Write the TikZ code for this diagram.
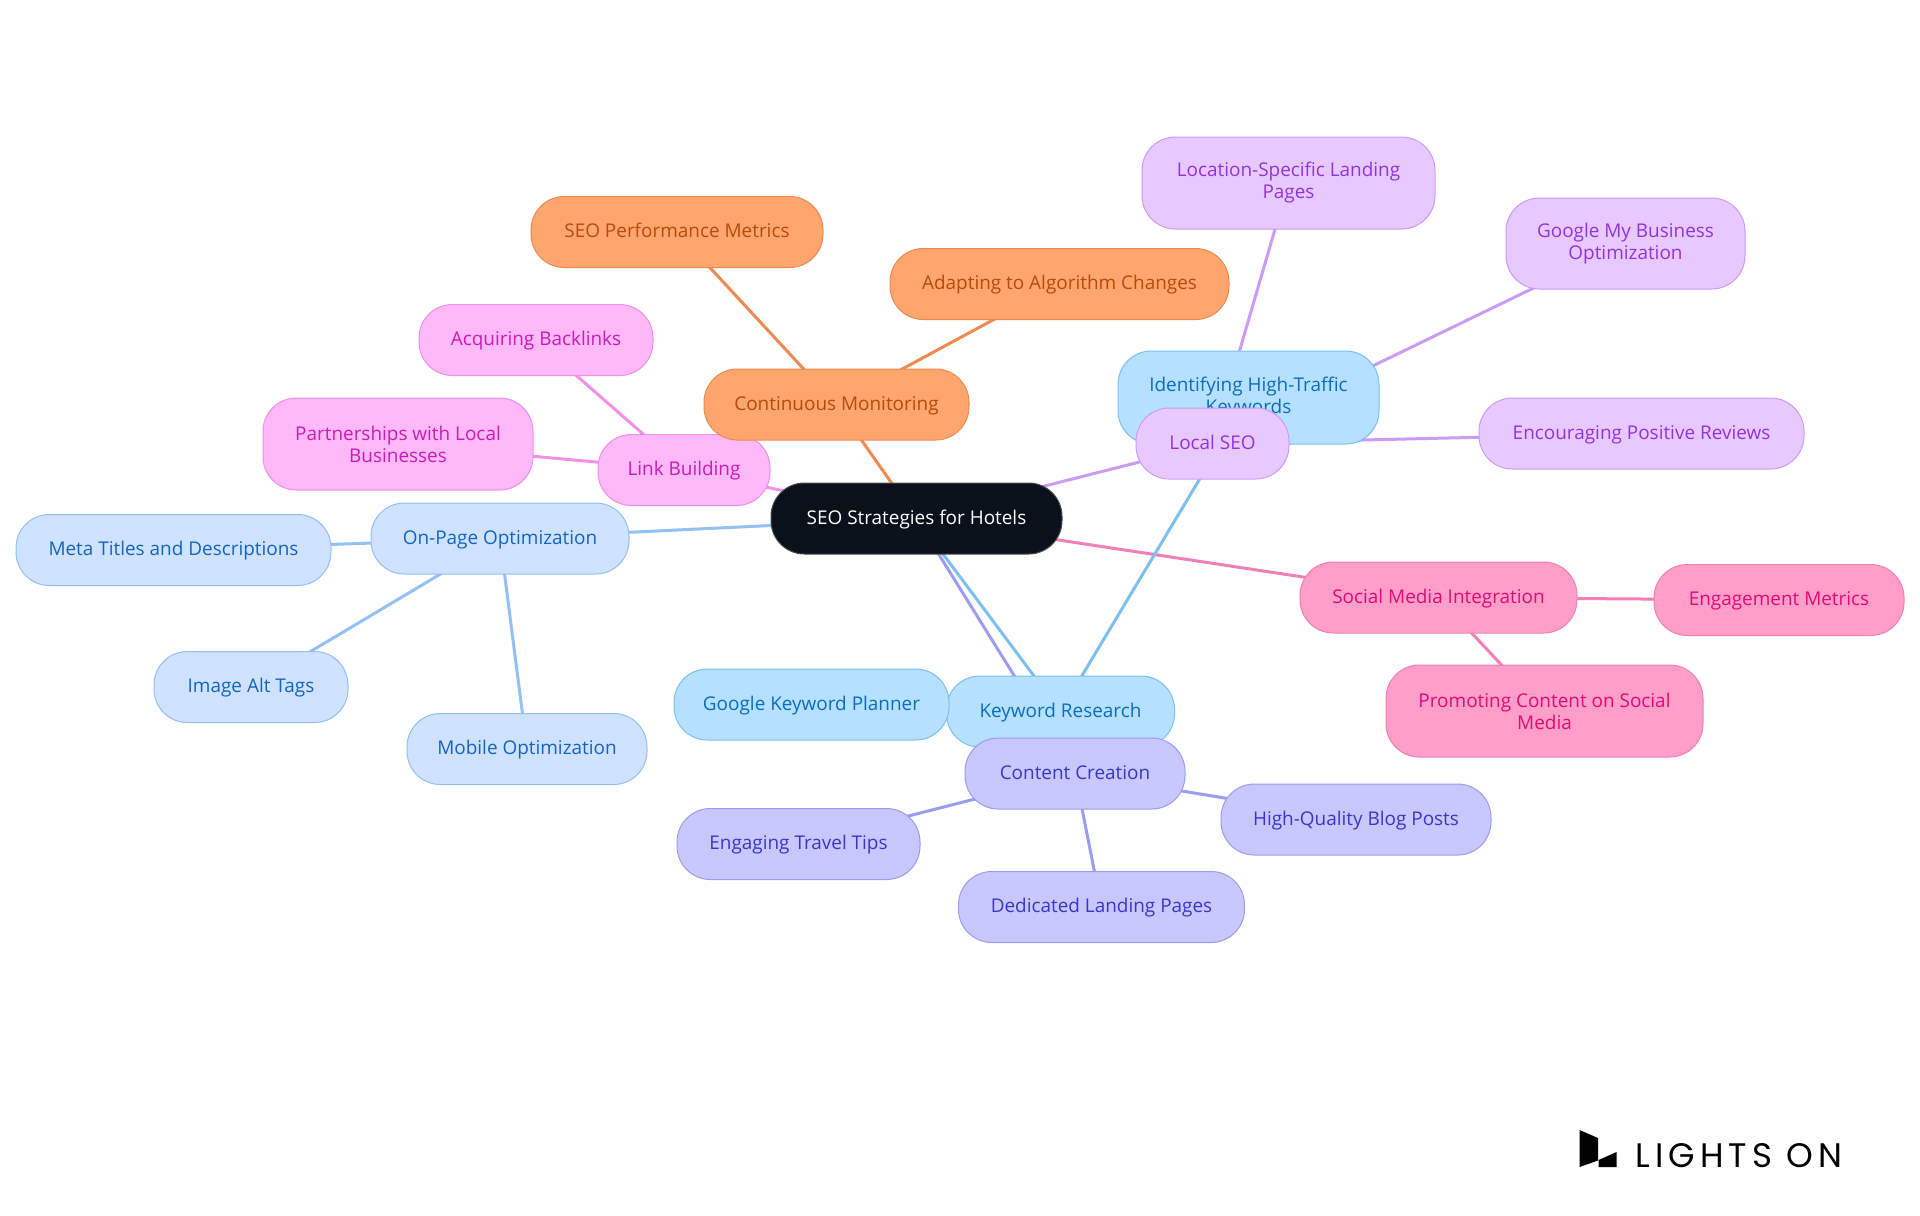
\documentclass[tikz,border=0pt]{standalone}
\usepackage{fontspec}
\setmainfont{Open Sans}
\newfontfamily\brandfont[LetterSpace=15]{Poppins}
\usepackage{tikz}
\usetikzlibrary{backgrounds}
\tikzset{
  size/.style 2 args={minimum width=#1*0.75pt,minimum height=#2*0.75pt},
  topic/.style 2 args={draw=#1,fill=#2,line width=0.75pt,rounded corners=25pt,
    inner sep=0pt,align=center,text height=11.5pt,text depth=3pt,
    font=\fontsize{14.2pt}{16.5pt}\selectfont},
  wrapped/.style={text height={},text depth={}},
  rootbox/.style={topic={black!70}{rootfill},text=white},
  kwbox/.style={topic={kwline}{kwfill},text=kwtext},
  pagebox/.style={topic={pageline}{pagefill},text=pagetext},
  contentbox/.style={topic={contentline}{contentfill},text=contenttext},
  localbox/.style={topic={localline}{localfill},text=localtext},
  linkbox/.style={topic={linkline}{linkfill},text=linktext},
  socialbox/.style={topic={socialline}{socialfill},text=socialtext},
  monitorbox/.style={topic={monitorline}{monitorfill},text=monitortext},
  branch/.style={draw=#1,line width=2.25pt}
}
\definecolor{rootfill}{HTML}{0B111A}
\definecolor{kwfill}{HTML}{B5E0FF}\definecolor{kwline}{HTML}{7CC0F0}\definecolor{kwtext}{HTML}{0A6EBD}
\definecolor{pagefill}{HTML}{CFE2FF}\definecolor{pageline}{HTML}{93C0F5}\definecolor{pagetext}{HTML}{1565C0}
\definecolor{contentfill}{HTML}{C8C8FF}\definecolor{contentline}{HTML}{9C9CF0}\definecolor{contenttext}{HTML}{3A36C8}
\definecolor{localfill}{HTML}{E8C9FF}\definecolor{localline}{HTML}{CB9BF5}\definecolor{localtext}{HTML}{9333DC}
\definecolor{linkfill}{HTML}{FFB8F8}\definecolor{linkline}{HTML}{F090E8}\definecolor{linktext}{HTML}{CC1CB8}
\definecolor{socialfill}{HTML}{FF9EC8}\definecolor{socialline}{HTML}{F27FB5}\definecolor{socialtext}{HTML}{E00B78}
\definecolor{monitorfill}{HTML}{FFA66E}\definecolor{monitorline}{HTML}{EC8A50}\definecolor{monitortext}{HTML}{B84A0C}
\begin{document}
\begin{tikzpicture}[x=0.75pt,y=-0.75pt]
\useasboundingbox (0,0) rectangle (1920,1215);
\node[pagebox,size={258}{71}] (onpage) at (500,538.5) {On-Page Optimization};
\node[pagebox,size={315}{71}] (meta) at (173.5,550) {Meta Titles and Descriptions};
\node[pagebox,size={194}{71}] (alttags) at (251,687) {Image Alt Tags};
\node[pagebox,size={240}{71}] (mobile) at (527,749) {Mobile Optimization};
\node[linkbox,size={172}{71}] (link) at (684,470) {Link Building};
\node[linkbox,size={234}{71}] (backlinks) at (536,340) {Acquiring Backlinks};
\node[linkbox,wrapped,size={270}{92}] (partners) at (398,444) {Partnerships with Local\\Businesses};
\node[monitorbox,size={265}{71}] (monitor) at (836.5,404.5) {Continuous Monitoring};
\node[monitorbox,size={292}{71}] (metrics) at (677,232) {SEO Performance Metrics};
\node[monitorbox,size={339}{71}] (adapting) at (1059.5,284) {Adapting to Algorithm Changes};
\node[kwbox,wrapped,size={261}{93}] (hightraffic) at (1248.5,397.5) {Identifying High-Traffic\\Keywords};
\node[localbox,size={153}{71}] (localseo) at (1212.5,443.5) {Local SEO};
\node[localbox,wrapped,size={293}{92}] (landing) at (1288.5,183) {Location-Specific Landing\\Pages};
\node[localbox,wrapped,size={239}{91}] (mybusiness) at (1625.5,243.5) {Google My Business\\Optimization};
\node[localbox,size={325}{71}] (reviews) at (1641.5,433.5) {Encouraging Positive Reviews};
\node[socialbox,size={277}{71}] (social) at (1438.5,597.5) {Social Media Integration};
\node[socialbox,size={250}{71}] (engagement) at (1779,600) {Engagement Metrics};
\node[socialbox,wrapped,size={317}{92}] (promoting) at (1544.5,711) {Promoting Content on Social\\Media};
\node[kwbox,size={228}{71}] (keyword) at (1060.5,711.5) {Keyword Research};
\node[kwbox,size={275}{71}] (planner) at (811.5,704.5) {Google Keyword Planner};
\node[contentbox,size={220}{71}] (content) at (1075,773.5) {Content Creation};
\node[contentbox,size={243}{71}] (tips) at (798.5,844) {Engaging Travel Tips};
\node[contentbox,size={286}{71}] (dedicated) at (1101.5,907) {Dedicated Landing Pages};
\node[contentbox,size={270}{71}] (blog) at (1356,819.5) {High-Quality Blog Posts};
\node[rootbox,size={291}{71}] (root) at (916.5,518.5) {SEO Strategies for Hotels};
\begin{scope}[on background layer]
\draw[branch=pageline] (root.center) -- (onpage.center);
\foreach \leaf in {meta,alttags,mobile} \draw[branch=pageline] (onpage.center) -- (\leaf.center);
\draw[branch=linkline] (root.center) -- (link.center);
\foreach \leaf in {backlinks,partners} \draw[branch=linkline] (link.center) -- (\leaf.center);
\draw[branch=monitorline] (root.center) -- (monitor.center);
\foreach \leaf in {metrics,adapting} \draw[branch=monitorline] (monitor.center) -- (\leaf.center);
\draw[branch=localline] (root.center) -- (localseo.center);
\foreach \leaf in {landing,mybusiness,reviews} \draw[branch=localline] (localseo.center) -- (\leaf.center);
\draw[branch=socialline] (root.center) -- (social.center);
\foreach \leaf in {engagement,promoting} \draw[branch=socialline] (social.center) -- (\leaf.center);
\draw[branch=kwline] (root.center) -- (keyword.center);
\foreach \leaf in {planner,hightraffic} \draw[branch=kwline] (keyword.center) -- (\leaf.center);
\draw[branch=contentline] (root.center) -- (content.center);
\foreach \leaf in {tips,dedicated,blog} \draw[branch=contentline] (content.center) -- (\leaf.center);
\end{scope}
% logo
\fill[black] (1579.5,1130) -- (1598,1138) -- (1598,1160.5) -- (1579.5,1167) -- cycle;
\fill[black] (1598.5,1160) -- (1616.5,1152) -- (1616.5,1167) -- (1598.5,1167) -- cycle;
\node[anchor=base west,inner sep=0pt,font=\brandfont\fontsize{25.5pt}{26pt}\selectfont] (brand) at (1635,1167) {LIGHTS ON};
\end{tikzpicture}
\end{document}
